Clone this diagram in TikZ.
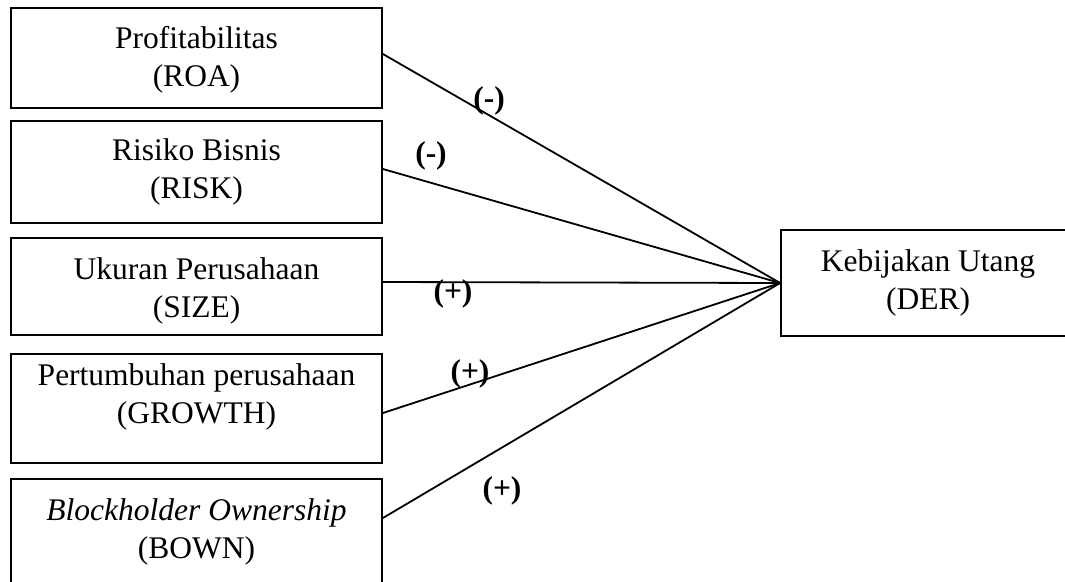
\documentclass[tikz,border=0pt]{standalone}
\usepackage{fontspec}
\setmainfont{Liberation Serif}
\begin{document}
\begin{tikzpicture}[x=1pt,y=-1pt, line width=1.8pt,
  box/.style={draw, rectangle, minimum width=371pt, inner sep=0pt},
  txt/.style={align=center, font=\fontsize{31.5}{38}\selectfont, inner sep=0pt},
  sign/.style={font=\fontsize{31.5}{38}\selectfont\bfseries, inner sep=0pt}]
\useasboundingbox (0,0) rectangle (1065,581);
\begin{scope}
\clip (0,0) rectangle (1065,581);
\node[box, minimum height=100pt] (roa) at (196.5,58) {};
\node[box, minimum height=102pt] (risk) at (196.5,172) {};
\node[box, minimum height=97pt] (size) at (196.5,286.5) {};
\node[box, minimum height=109pt] (growth) at (196.5,408.5) {};
\node[box, minimum height=105pt] (bown) at (196.5,531.5) {};
\node[box, minimum width=294pt, minimum height=106pt] (der) at (928,283) {};
\end{scope}
\node[txt] (roat) at (196.5,59.5) {Profitabilitas\\(ROA)};
\node[txt] (riskt) at (196.5,171.5) {Risiko Bisnis\\(RISK)};
\node[txt] (sizet) at (196.5,291) {Ukuran Perusahaan\\(SIZE)};
\node[txt] (growtht) at (196.5,396.5) {Pertumbuhan perusahaan\\(GROWTH)};
\node[txt] (bownt) at (196.5,531.5) {{\itshape Blockholder Ownership}\\(BOWN)};
\node[txt] (dert) at (928,282.5) {Kebijakan Utang\\(DER)};
\draw ([yshift=4pt]roa.east) -- (der.west);
\draw ([yshift=3pt]risk.east) -- (der.west);
\draw ([yshift=4.5pt]size.east) -- (der.west);
\draw ([yshift=-4.5pt]growth.east) -- (der.west);
\draw ([yshift=13.5pt]bown.east) -- (der.west);
\node[sign] (s1) at (489,101) {(-)};
\node[sign] (s2) at (431,156) {(-)};
\node[sign] (s3) at (453,294) {(+)};
\node[sign] (s4) at (470,374) {(+)};
\node[sign] (s5) at (502,491) {(+)};
\end{tikzpicture}
\end{document}
